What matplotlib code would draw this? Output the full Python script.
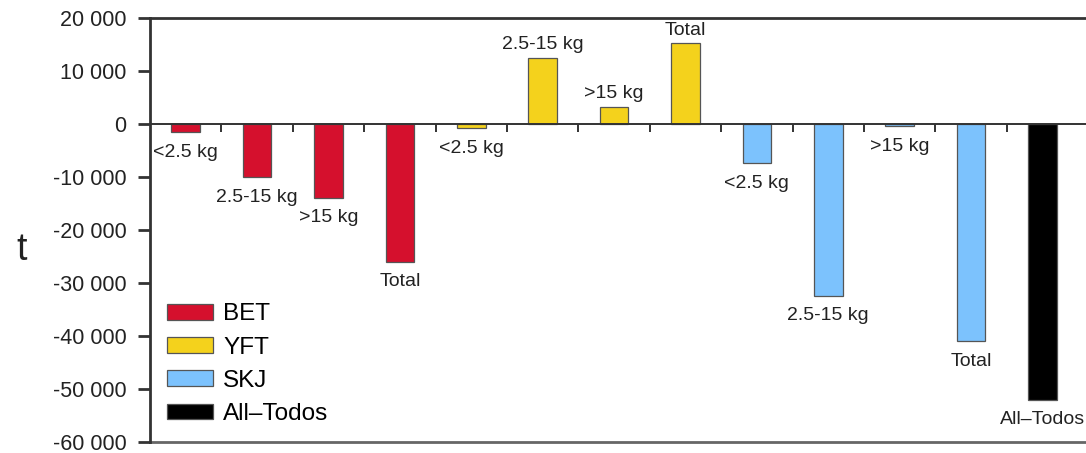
import matplotlib
matplotlib.use("Agg")
import matplotlib.pyplot as plt
from matplotlib.patches import Patch
from matplotlib.ticker import FuncFormatter, FixedLocator, NullLocator

plt.rcParams['font.family'] = ['Liberation Sans', 'DejaVu Sans']

# ---- data ----
labels = ["<2.5 kg", "2.5-15 kg", ">15 kg", "Total",
          "<2.5 kg", "2.5-15 kg", ">15 kg", "Total",
          "<2.5 kg", "2.5-15 kg", ">15 kg", "Total",
          "All\u2013Todos"]
species = ["BET", "BET", "BET", "BET",
           "YFT", "YFT", "YFT", "YFT",
           "SKJ", "SKJ", "SKJ", "SKJ",
           "All\u2013Todos"]
values = [-1500, -10000, -13900, -26000,
          -800, 12500, 3300, 15200,
          -7400, -32400, -450, -41000,
          -52000]
legend_names = ["BET", "YFT", "SKJ", "All\u2013Todos"]
colors = {"BET": "#D5102D", "YFT": "#F4D21C", "SKJ": "#7CC2FD", "All\u2013Todos": "#000000"}
y_ticks = [20000, 10000, 0, -10000, -20000, -30000, -40000, -50000, -60000]
y_label = "t"

fig = plt.figure(figsize=(10.86, 4.53), dpi=100)
ax = fig.add_axes([150/1086, 11/453, 936/1086, 424/453])

x = list(range(len(values)))
bar_cols = [colors[s] for s in species]
ax.bar(x, values, width=0.4, color=bar_cols, edgecolor="#555555", linewidth=0.9, zorder=2)

ax.set_xlim(-0.5, 12.61)
ax.set_ylim(-60000, 20000)

txtcol = "#222222"
for xi, v, lab in zip(x, values, labels):
    off = 9.5 if v > 0 else -14.5
    ax.annotate(lab, (xi, v), xytext=(0, off), textcoords="offset points",
                ha="center", va="center", fontsize=14, color=txtcol)

# y axis
ax.yaxis.set_major_locator(FixedLocator(y_ticks))
ax.yaxis.set_major_formatter(FuncFormatter(lambda v, p: f"{int(v):,}".replace(",", " ")))
ax.tick_params(axis="y", length=9, width=2, color="#333333", pad=8,
               labelsize=15.5, labelcolor=txtcol)

# zero line with ticks between groups
ax.spines["bottom"].set_position(("data", 0))
ax.spines["bottom"].set_linewidth(1.4)
ax.spines["bottom"].set_color("#333333")
ax.xaxis.set_major_locator(NullLocator())
ax.xaxis.set_minor_locator(FixedLocator([i + 0.5 for i in range(12)]))
ax.tick_params(axis="x", which="minor", length=6, width=1.4, color="#333333",
               direction="out", labelbottom=False)
ax.tick_params(axis="x", which="major", length=0, labelbottom=False)

sec = ax.secondary_xaxis(0.0)
sec.set_xticks([])
sec.spines["bottom"].set_linewidth(2)
sec.spines["bottom"].set_color("#666666")

ax.spines["left"].set_linewidth(2)
ax.spines["left"].set_color("#333333")
ax.spines["top"].set_linewidth(2)
ax.spines["top"].set_color("#333333")
ax.spines["right"].set_visible(False)

fig.text(22/1086, 1 - 250/453, y_label, fontsize=27, color=txtcol, ha="center", va="center")

handles = [Patch(facecolor=colors[n], edgecolor="#555555", linewidth=0.9) for n in legend_names]
ax.legend(handles, legend_names, loc="lower left", bbox_to_anchor=(17/936, 17/424),
          frameon=False, fontsize=17.5, handlelength=1.9, handleheight=0.62,
          handletextpad=0.42, labelspacing=0.46, borderpad=0, borderaxespad=0)

fig.savefig("out.png", dpi=100)
